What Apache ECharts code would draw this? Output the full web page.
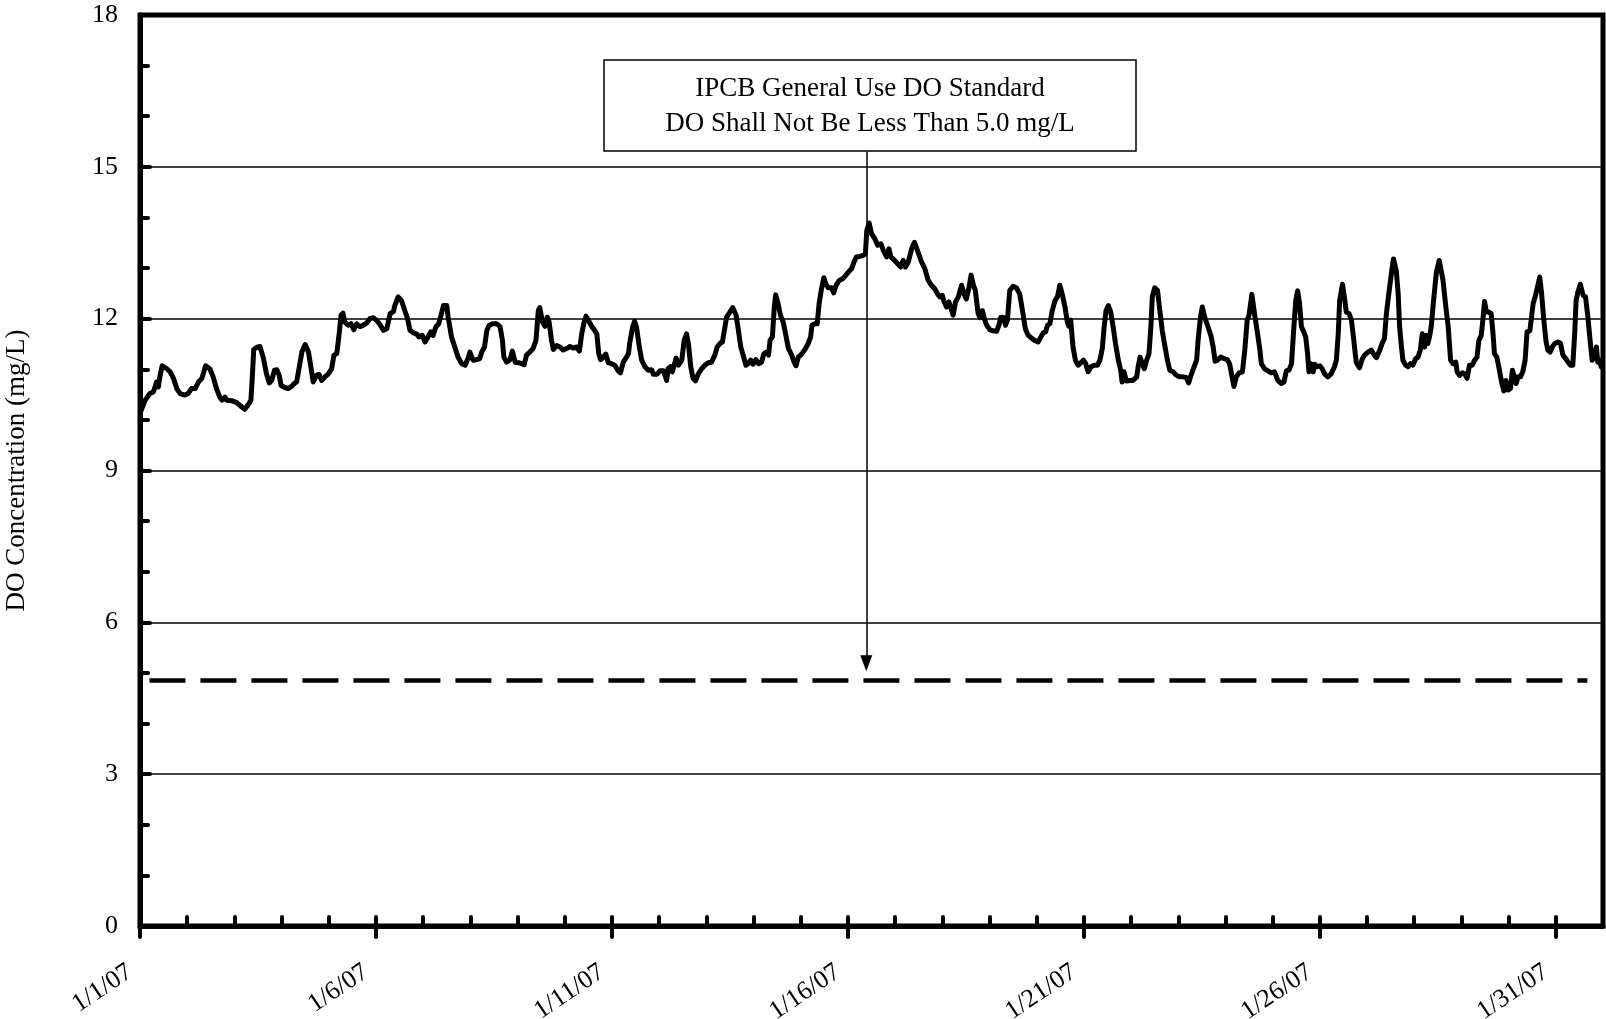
<!DOCTYPE html>
<html>
<head>
<meta charset="utf-8">
<script src="https://cdn.jsdelivr.net/npm/echarts@6/dist/echarts.min.js"></script>
<style>
  html, body { margin: 0; padding: 0; background: #fff; }
  #chart { width: 1606px; height: 1019px; }
</style>
</head>
<body>
<div id="chart"></div>
<script>
// days since 1/1/07 00:00
const dayOffsets = [
  0.00, 0.11, 0.21, 0.28, 0.32, 0.35, 0.39, 0.42, 0.47, 0.57, 0.64, 0.71, 0.78, 0.85, 0.95,
  1.02, 1.09, 1.17, 1.24, 1.31, 1.34, 1.39, 1.48, 1.55, 1.62, 1.69, 1.74, 1.80, 1.84, 1.94,
  2.05, 2.15, 2.22, 2.30, 2.35, 2.38, 2.41, 2.47, 2.54, 2.61, 2.68, 2.74, 2.79, 2.85, 2.90, 2.95, 2.99,
  3.07, 3.14, 3.21, 3.27, 3.32, 3.35, 3.43, 3.50, 3.57, 3.62, 3.67, 3.74, 3.79, 3.85, 3.92, 3.99,
  4.06, 4.11, 4.17, 4.22, 4.26, 4.30, 4.34, 4.41, 4.47, 4.53, 4.59, 4.66, 4.73, 4.80, 4.87, 4.94,
  5.01, 5.08, 5.16, 5.23, 5.30, 5.37, 5.40, 5.47, 5.54, 5.61, 5.67, 5.72, 5.79, 5.86, 5.91, 5.98,
  6.04, 6.11, 6.16, 6.21, 6.27, 6.33, 6.38, 6.43, 6.50, 6.53, 6.60, 6.67, 6.74, 6.82, 6.89, 6.96, 6.99,
  7.03, 7.06, 7.13, 7.20, 7.24, 7.30, 7.35, 7.40, 7.47, 7.56, 7.63, 7.68, 7.71, 7.77, 7.84, 7.89, 7.95,
  8.02, 8.09, 8.14, 8.19, 8.26, 8.33, 8.39, 8.44, 8.47, 8.53, 8.58, 8.63, 8.67, 8.72, 8.76, 8.83, 8.90, 8.97,
  9.04, 9.11, 9.18, 9.25, 9.31, 9.36, 9.41, 9.45, 9.50, 9.57, 9.64, 9.68, 9.72, 9.76, 9.82, 9.87, 9.92, 9.99,
  10.06, 10.13, 10.18, 10.24, 10.31, 10.35, 10.38, 10.44, 10.48, 10.52, 10.58, 10.63, 10.70, 10.77, 10.84, 10.88, 10.95,
  11.02, 11.09, 11.16, 11.19, 11.24, 11.28, 11.36, 11.41, 11.44, 11.48, 11.53, 11.58, 11.62, 11.67, 11.72, 11.77, 11.83, 11.90, 11.97,
  12.04, 12.11, 12.18, 12.23, 12.29, 12.34, 12.37, 12.43, 12.50, 12.56, 12.63, 12.68, 12.73, 12.78, 12.84, 12.89, 12.94, 12.99,
  13.05, 13.11, 13.17, 13.22, 13.28, 13.32, 13.35, 13.40, 13.44, 13.47, 13.52, 13.57, 13.63, 13.67, 13.74, 13.81, 13.86, 13.90, 13.95,
  14.02, 14.09, 14.16, 14.21, 14.24, 14.30, 14.35, 14.39, 14.44, 14.49, 14.53, 14.58, 14.65, 14.70, 14.75, 14.82, 14.89, 14.94,
  15.01, 15.08, 15.13, 15.18, 15.25, 15.32, 15.37, 15.40, 15.45, 15.50, 15.57, 15.63, 15.70, 15.75, 15.82, 15.87, 15.91, 15.98,
  16.05, 16.12, 16.17, 16.22, 16.28, 16.35, 16.41, 16.45, 16.50, 16.56, 16.63, 16.70, 16.77, 16.84, 16.90, 16.95,
  17.00, 17.04, 17.09, 17.14, 17.18, 17.23, 17.28, 17.34, 17.41, 17.46, 17.51, 17.56, 17.61, 17.66, 17.70, 17.76, 17.80, 17.85, 17.89, 17.94,
  18.01, 18.08, 18.15, 18.20, 18.24, 18.29, 18.34, 18.38, 18.43, 18.50, 18.57, 18.64, 18.71, 18.76, 18.82, 18.89, 18.96,
  19.03, 19.09, 19.14, 19.19, 19.23, 19.28, 19.33, 19.39, 19.44, 19.49, 19.54, 19.60, 19.65, 19.68, 19.72, 19.77, 19.82, 19.88, 19.94, 19.99,
  20.04, 20.09, 20.15, 20.22, 20.29, 20.34, 20.39, 20.43, 20.47, 20.52, 20.57, 20.62, 20.67, 20.73, 20.78, 20.81, 20.85, 20.90, 20.97,
  21.04, 21.12, 21.15, 21.19, 21.24, 21.28, 21.33, 21.38, 21.42, 21.45, 21.50, 21.56, 21.61, 21.66, 21.72, 21.77, 21.82, 21.89, 21.96,
  22.03, 22.10, 22.17, 22.22, 22.27, 22.32, 22.39, 22.42, 22.47, 22.51, 22.56, 22.63, 22.69, 22.74, 22.78, 22.83, 22.90, 22.97,
  23.04, 23.09, 23.18, 23.23, 23.29, 23.36, 23.41, 23.46, 23.50, 23.56, 23.62, 23.67, 23.73, 23.76, 23.83, 23.90, 23.97,
  24.04, 24.11, 24.18, 24.24, 24.29, 24.35, 24.40, 24.45, 24.49, 24.53, 24.57, 24.61, 24.66, 24.70, 24.74, 24.77, 24.81, 24.86, 24.89, 24.94,
  25.00, 25.05, 25.10, 25.17, 25.24, 25.31, 25.35, 25.39, 25.42, 25.48, 25.53, 25.56, 25.62, 25.67, 25.72, 25.77, 25.84, 25.90, 25.95,
  26.02, 26.09, 26.14, 26.20, 26.23, 26.27, 26.32, 26.37, 26.41, 26.47, 26.52, 26.56, 26.62, 26.66, 26.69, 26.73, 26.76, 26.82, 26.87, 26.92, 26.97,
  27.03, 27.08, 27.13, 27.17, 27.22, 27.26, 27.29, 27.33, 27.36, 27.41, 27.47, 27.53, 27.57, 27.61, 27.67, 27.72, 27.77, 27.82, 27.88, 27.91, 27.96,
  28.02, 28.07, 28.12, 28.17, 28.23, 28.28, 28.33, 28.37, 28.42, 28.46, 28.49, 28.53, 28.58, 28.63, 28.67, 28.70, 28.75, 28.80, 28.85, 28.90, 28.94, 28.99,
  29.04, 29.08, 29.11, 29.16, 29.20, 29.25, 29.30, 29.35, 29.39, 29.45, 29.48, 29.52, 29.57, 29.62, 29.66, 29.70, 29.74, 29.79, 29.83, 29.88, 29.93, 29.98,
  30.05, 30.10, 30.15, 30.21, 30.26, 30.31, 30.36, 30.40, 30.43, 30.47, 30.52, 30.58, 30.63, 30.68, 30.73, 30.77, 30.82, 30.86, 30.89, 30.93, 30.96, 31.00
];

// DO concentration (mg/L), one per day offset
const doValues = [
  10.13, 10.39, 10.52, 10.55, 10.65, 10.75, 10.65, 10.85, 11.07, 11.01, 10.95, 10.82, 10.62, 10.52, 10.49,
  10.52, 10.62, 10.62, 10.75, 10.82, 10.91, 11.07, 11.01, 10.85, 10.62, 10.45, 10.39, 10.45, 10.39, 10.38,
  10.34, 10.26, 10.21, 10.31, 10.39, 10.85, 11.39, 11.43, 11.45, 11.24, 10.91, 10.73, 10.78, 10.98, 10.99, 10.88, 10.68,
  10.64, 10.62, 10.66, 10.72, 10.75, 10.78, 11.34, 11.49, 11.34, 11.05, 10.75, 10.88, 10.90, 10.78, 10.85, 10.91,
  11.01, 11.28, 11.31, 11.70, 12.07, 12.11, 11.93, 11.87, 11.90, 11.78, 11.90, 11.84, 11.87, 11.91, 12.00, 12.02,
  11.97, 11.89, 11.77, 11.80, 12.10, 12.14, 12.26, 12.43, 12.36, 12.16, 12.00, 11.77, 11.72, 11.70, 11.64, 11.67,
  11.54, 11.65, 11.74, 11.67, 11.84, 11.90, 12.07, 12.26, 12.26, 12.03, 11.64, 11.44, 11.24, 11.11, 11.08, 11.24, 11.34,
  11.24, 11.18, 11.19, 11.21, 11.34, 11.44, 11.77, 11.87, 11.90, 11.90, 11.84, 11.57, 11.24, 11.14, 11.19, 11.36, 11.14,
  11.13, 11.11, 11.09, 11.28, 11.34, 11.41, 11.57, 12.16, 12.22, 11.93, 11.85, 12.03, 11.93, 11.57, 11.39, 11.47, 11.44, 11.38,
  11.41, 11.45, 11.42, 11.44, 11.36, 11.70, 11.93, 12.05, 11.97, 11.85, 11.76, 11.70, 11.31, 11.19, 11.24, 11.30, 11.13, 11.11,
  11.08, 10.97, 10.93, 11.14, 11.24, 11.31, 11.54, 11.84, 11.95, 11.84, 11.44, 11.18, 11.05, 10.98, 10.99, 10.90, 10.90,
  10.97, 10.97, 10.78, 11.01, 11.05, 10.95, 11.22, 11.08, 11.05, 11.18, 11.57, 11.70, 11.51, 11.05, 10.82, 10.77, 10.91, 11.01, 11.08,
  11.13, 11.14, 11.28, 11.44, 11.51, 11.54, 11.70, 12.03, 12.13, 12.22, 12.07, 11.77, 11.44, 11.28, 11.08, 11.11, 11.18, 11.10,
  11.19, 11.11, 11.14, 11.31, 11.34, 11.28, 11.57, 11.64, 12.23, 12.47, 12.30, 12.07, 11.93, 11.74, 11.41, 11.28, 11.14, 11.07, 11.24,
  11.30, 11.39, 11.51, 11.64, 11.87, 11.90, 11.90, 12.30, 12.59, 12.81, 12.69, 12.61, 12.61, 12.51, 12.66, 12.76, 12.79, 12.84,
  12.92, 12.99, 13.12, 13.22, 13.23, 13.25, 13.28, 13.74, 13.89, 13.68, 13.58, 13.45, 13.48, 13.35, 13.22, 13.38, 13.22, 13.16,
  13.09, 13.02, 13.15, 13.02, 13.12, 13.38, 13.51, 13.41, 13.28, 13.12, 12.99, 12.76, 12.66, 12.59, 12.49, 12.43,
  12.46, 12.33, 12.23, 12.33, 12.30, 12.07, 12.33, 12.43, 12.66, 12.49, 12.39, 12.59, 12.86, 12.66, 12.56, 12.10, 12.02, 12.16, 12.00, 11.87,
  11.78, 11.76, 11.75, 11.87, 12.03, 12.03, 11.87, 11.97, 12.56, 12.64, 12.61, 12.49, 12.10, 11.80, 11.67, 11.62, 11.57,
  11.54, 11.64, 11.72, 11.74, 11.87, 11.90, 12.16, 12.36, 12.43, 12.66, 12.49, 12.23, 11.93, 11.85, 11.97, 11.44, 11.18, 11.08, 11.13, 11.18,
  11.11, 10.95, 11.05, 11.08, 11.08, 11.18, 11.41, 11.84, 12.16, 12.26, 12.13, 11.84, 11.51, 11.18, 10.98, 10.75, 10.95, 10.77, 10.78,
  10.78, 10.85, 11.05, 11.24, 11.11, 11.01, 11.18, 11.31, 11.84, 12.43, 12.61, 12.56, 12.16, 11.77, 11.44, 11.18, 10.98, 10.95, 10.88,
  10.85, 10.85, 10.84, 10.73, 10.88, 11.01, 11.18, 11.57, 12.03, 12.23, 12.03, 11.84, 11.67, 11.44, 11.16, 11.18, 11.24, 11.21,
  11.19, 11.10, 10.66, 10.85, 10.93, 10.95, 11.38, 11.97, 12.07, 12.48, 12.07, 11.77, 11.38, 11.11, 11.01, 10.97, 10.93,
  10.95, 10.78, 10.72, 10.75, 10.97, 10.99, 11.11, 11.84, 12.36, 12.55, 12.30, 11.84, 11.74, 11.64, 11.31, 10.95, 11.11, 10.95, 11.10, 11.05,
  11.07, 11.01, 10.91, 10.85, 10.91, 11.05, 11.18, 11.70, 12.36, 12.68, 12.36, 12.13, 12.10, 11.97, 11.57, 11.14, 11.03, 11.21, 11.28,
  11.34, 11.38, 11.30, 11.23, 11.24, 11.38, 11.51, 11.61, 12.10, 12.56, 12.92, 13.18, 12.95, 12.49, 11.84, 11.44, 11.18, 11.08, 11.05, 11.11, 11.08,
  11.21, 11.24, 11.38, 11.70, 11.44, 11.67, 11.51, 11.67, 11.84, 12.36, 12.92, 13.15, 13.15, 12.76, 12.23, 11.84, 11.18, 11.11, 11.14, 10.95, 10.88,
  10.93, 10.91, 10.82, 11.08, 11.08, 11.18, 11.24, 11.57, 11.67, 12.03, 12.34, 12.13, 12.13, 12.10, 11.70, 11.31, 11.24, 11.01, 10.75, 10.57, 10.78, 10.59,
  10.62, 10.98, 11.01, 10.72, 10.85, 10.85, 10.95, 11.18, 11.74, 11.76, 11.77, 12.30, 12.46, 12.66, 12.82, 12.49, 12.03, 11.57, 11.38, 11.34, 11.45, 11.51,
  11.54, 11.51, 11.28, 11.21, 11.14, 11.08, 11.08, 11.70, 12.36, 12.53, 12.68, 12.46, 12.43, 12.03, 11.54, 11.18, 11.24, 11.44, 11.14, 11.18, 11.05, 11.02
];

const tickLabels = ['1/1/07', '1/6/07', '1/11/07', '1/16/07', '1/21/07', '1/26/07', '1/31/07'];

// dashed standard line as drawn, and the arrow pointing at it
const standardLevel = 4.85;
const standardSpan = [0.2, 30.67];
const arrowDay = 15.39;
const arrowFrom = 15.3;
const arrowTo = 5.19;

const annotationLines = ['IPCB General Use DO Standard', 'DO Shall Not Be Less Than 5.0 mg/L'];

const serif = '"Liberation Serif", "Times New Roman", serif';

const chart = echarts.init(document.getElementById('chart'));

chart.setOption({
  animation: false,
  backgroundColor: '#fff',
  grid: {
    left: 140,
    right: 3,
    top: 15,
    bottom: 93,
    outerBoundsMode: 'none',
    containLabel: false,
    show: true,
    borderColor: '#000',
    borderWidth: 5,
  },
  xAxis: [
    {
      type: 'value',
      min: 0,
      max: 31,
      interval: 5,
      position: 'bottom',
      splitLine: { show: false },
      axisLine: { onZero: false, lineStyle: { color: '#000', width: 5 } },
      axisTick: { inside: false, length: 11, lineStyle: { color: '#000', width: 4, cap: 'round' } },
      axisLabel: {
        rotate: 34,
        margin: 37,
        showMaxLabel: false,
        color: '#000',
        fontFamily: serif,
        fontSize: 26,
        formatter: (v) => {
          const lbl = tickLabels[v / 5];
          return lbl ? '{t|' + lbl + '}' : '';
        },
        rich: { t: { fontFamily: serif, fontSize: 26, color: '#000', padding: [0, 12, 0, 0] } },
      },
    },
    {
      type: 'value',
      min: 0,
      max: 31,
      interval: 1,
      position: 'bottom',
      splitLine: { show: false },
      axisLine: { show: false, onZero: false },
      axisTick: { inside: true, length: 9, lineStyle: { color: '#000', width: 4, cap: 'round' } },
      axisLabel: { show: false },
    },
  ],
  yAxis: {
    type: 'value',
    min: 0,
    max: 18,
    interval: 3,
    name: 'DO Concentration (mg/L)',
    nameLocation: 'middle',
    nameGap: 110,
    nameTextStyle: { fontFamily: serif, fontSize: 27, color: '#000' },
    axisLine: { show: true, onZero: false, lineStyle: { color: '#000', width: 5 } },
    axisTick: { inside: true, length: 10, lineStyle: { color: '#000', width: 4, cap: 'round' } },
    minorTick: { show: true, splitNumber: 3, length: 8, lineStyle: { color: '#000', width: 4, cap: 'round' } },
    splitLine: { show: true, lineStyle: { color: '#000', width: 1.5 } },
    axisLabel: { margin: 22, color: '#000', fontFamily: serif, fontSize: 26 },
  },
  series: [
    {
      type: 'line',
      data: dayOffsets.map((d, i) => [d, doValues[i]]),
      showSymbol: false,
      lineStyle: { color: '#000', width: 5, join: 'round' },
      z: 3,
      markLine: {
        silent: true,
        animation: false,
        label: { show: false },
        lineStyle: { color: '#000', width: 1.5, type: 'solid' },
        data: [[
          { coord: [arrowDay, arrowFrom], symbol: 'none' },
          { coord: [arrowDay, arrowTo], symbol: 'triangle', symbolSize: [12, 16] },
        ]],
      },
    },
    {
      type: 'line',
      data: standardSpan.map((d) => [d, standardLevel]),
      showSymbol: false,
      lineStyle: { color: '#000', width: 4.5, type: [36, 15] },
      z: 2,
    },
  ],
  graphic: [
    {
      type: 'rect',
      shape: { x: 604, y: 60, width: 532, height: 91 },
      style: { fill: '#fff', stroke: '#000', lineWidth: 1.5 },
      z: 10,
    },
    {
      type: 'text',
      x: 870,
      y: 106,
      style: {
        text: annotationLines.join('\n'),
        fill: '#000',
        font: '27px ' + serif,
        lineHeight: 35,
        align: 'center',
        verticalAlign: 'middle',
      },
      z: 11,
    },
  ],
});
</script>
</body>
</html>
